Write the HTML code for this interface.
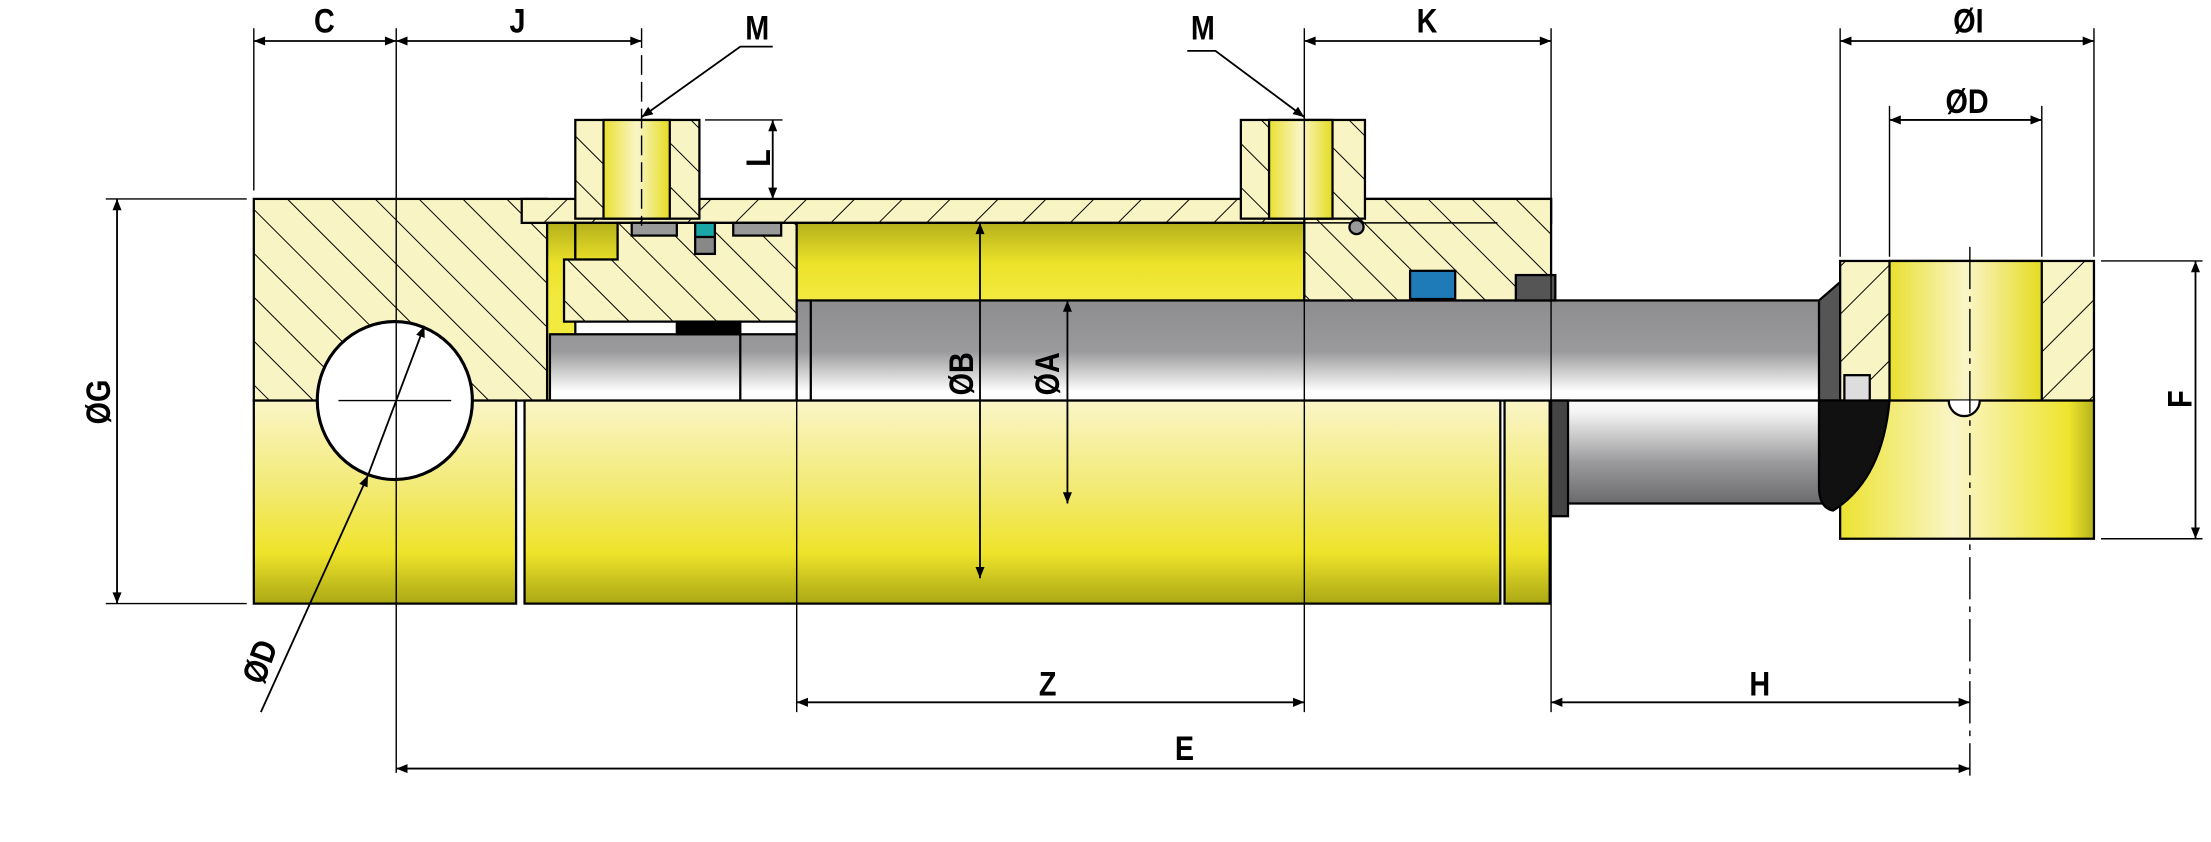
<!DOCTYPE html>
<html><head><meta charset="utf-8"><style>
html,body{margin:0;padding:0;background:#fff;}
svg{display:block;}
text{font-family:"Liberation Sans",sans-serif;font-weight:bold;fill:#000;}
</style></head><body>
<svg width="2211" height="842" viewBox="0 0 1568 597" xmlns="http://www.w3.org/2000/svg">
<defs>
<pattern id="h" patternUnits="userSpaceOnUse" width="22" height="22" patternTransform="rotate(-45)">
<rect width="22" height="22" fill="#f9f4c4"/><line x1="0" y1="0" x2="0" y2="22" stroke="#000" stroke-width="1.4"/></pattern>
<pattern id="h2" patternUnits="userSpaceOnUse" width="24" height="24" patternTransform="rotate(45)">
<rect width="24" height="24" fill="#f9f4c4"/><line x1="0" y1="0" x2="0" y2="24" stroke="#000" stroke-width="1.4"/></pattern>
<linearGradient id="yb" x1="0" y1="284" x2="0" y2="428" gradientUnits="userSpaceOnUse">
<stop offset="0" stop-color="#faf5c8"/><stop offset="0.45" stop-color="#f2ea70"/><stop offset="0.75" stop-color="#efe32a"/><stop offset="1" stop-color="#aaa815"/></linearGradient>
<linearGradient id="yt" x1="0" y1="158" x2="0" y2="215" gradientUnits="userSpaceOnUse">
<stop offset="0" stop-color="#b4b01a"/><stop offset="0.5" stop-color="#ece22a"/><stop offset="1" stop-color="#f3ea40"/></linearGradient>
<linearGradient id="g" x1="0" y1="213" x2="0" y2="357" gradientUnits="userSpaceOnUse">
<stop offset="0" stop-color="#8d8d90"/><stop offset="0.25" stop-color="#9a9a9c"/><stop offset="0.45" stop-color="#ffffff"/><stop offset="0.55" stop-color="#f4f4f4"/><stop offset="0.8" stop-color="#9a9a9c"/><stop offset="1" stop-color="#6a6a6c"/></linearGradient>
<linearGradient id="yh" x1="0" y1="0" x2="1" y2="0">
<stop offset="0" stop-color="#e9e030"/><stop offset="0.5" stop-color="#faf5c8"/><stop offset="1" stop-color="#e5dc20"/></linearGradient>
<linearGradient id="ye" x1="0" y1="0" x2="1" y2="0">
<stop offset="0" stop-color="#ece330"/><stop offset="0.45" stop-color="#faf5c8"/><stop offset="0.9" stop-color="#eee52e"/><stop offset="1" stop-color="#b5b21a"/></linearGradient>
<marker id="a" viewBox="0 0 10 10" refX="10" refY="5" markerWidth="14" markerHeight="8" orient="auto-start-reverse" markerUnits="userSpaceOnUse"><path d="M0,1 L10,5 L0,9 z" fill="#000"/></marker>
</defs>

<g stroke="#000" stroke-width="1.6">
<rect x="180" y="141" width="208" height="143" fill="url(#h)"/>
<rect x="180" y="284" width="186" height="144" fill="url(#yb)"/>
<rect x="370" y="141" width="730" height="17" fill="url(#h2)"/>
<rect x="388" y="158" width="20" height="126" fill="url(#yt)"/>
<rect x="408" y="158" width="30" height="26" fill="url(#yt)"/>
<path d="M400,184 L438,184 L438,158 L565,158 L565,228 L400,228 Z" fill="url(#h)"/>
<rect x="565" y="158" width="360" height="56" fill="url(#yt)"/>
<rect x="390" y="237" width="175" height="47" fill="url(#g)"/>
<rect x="480" y="228" width="45" height="9" fill="#000"/>
<line x1="525" y1="237" x2="525" y2="284"/>
<rect x="565" y="213" width="735" height="71" fill="url(#g)"/>
<line x1="575" y1="213" x2="575" y2="284"/>
<rect x="925" y="141" width="175" height="72" fill="url(#h)"/>
<line x1="925" y1="158" x2="1062" y2="158" stroke-width="1"/>
<rect x="1000" y="192" width="32" height="20" fill="#1f7ab8"/>
<rect x="1075" y="195" width="28" height="18" fill="#555"/>
<rect x="448" y="158" width="32" height="9" fill="#999"/>
<rect x="520" y="158" width="34" height="9" fill="#999"/>
<rect x="493" y="158" width="14" height="11" fill="#1aa6a6"/>
<rect x="493" y="168" width="14" height="12" fill="#888"/>
<circle cx="962" cy="161" r="5" fill="#999"/>
<rect x="372" y="284" width="692" height="144" fill="url(#yb)"/>
<rect x="1067" y="284" width="32" height="144" fill="url(#yb)"/>
<rect x="1100" y="284" width="200" height="73" fill="url(#g)"/>
<rect x="1100" y="284" width="12" height="82" fill="#444"/>
<rect x="408" y="85" width="88" height="70" fill="url(#h)"/>
<rect x="428" y="85" width="47" height="70" fill="url(#yh)"/>
<rect x="880" y="85" width="88" height="70" fill="url(#h)"/>
<rect x="900" y="85" width="45" height="70" fill="url(#yh)"/>
<path d="M1290,213 L1305,200 L1305,284 L1290,284 Z" fill="#555"/>
<rect x="1305" y="185" width="180" height="99" fill="url(#h2)"/>
<rect x="1340" y="185" width="108" height="99" fill="url(#yh)"/>
<rect x="1305" y="284" width="180" height="98" fill="url(#ye)"/>
<path d="M1290,284 L1340,284 Q1335,340 1300,362 Q1290,360 1290,345 Z" fill="#111"/>
<rect x="1308" y="266" width="18" height="18" fill="#ddd"/>
<path d="M1382,284 A11,11 0 0 0 1404,284" fill="#fff"/>
<ellipse cx="280" cy="284" rx="55" ry="56" fill="#fff" stroke-width="2.2"/>
</g>

<g stroke="#000" stroke-width="1" fill="none">
<line x1="240" y1="284" x2="320" y2="284"/>
<line x1="281" y1="20" x2="281" y2="548"/>
<line x1="180" y1="20" x2="180" y2="135"/>
<line x1="455" y1="20" x2="455" y2="160" stroke-dasharray="14,5"/>
<line x1="925" y1="20" x2="925" y2="505"/>
<line x1="1100" y1="20" x2="1100" y2="505"/>
<line x1="565" y1="213" x2="565" y2="505"/>
<line x1="1305" y1="20" x2="1305" y2="182"/>
<line x1="1485" y1="20" x2="1485" y2="182"/>
<line x1="1340" y1="75" x2="1340" y2="182"/>
<line x1="1448" y1="75" x2="1448" y2="182"/>
<line x1="1397" y1="175" x2="1397" y2="550" stroke-dasharray="30,5,4,5"/>
<line x1="75" y1="141" x2="175" y2="141"/>
<line x1="75" y1="428" x2="175" y2="428"/>
<line x1="1490" y1="185" x2="1562" y2="185"/>
<line x1="1490" y1="382" x2="1562" y2="382"/>
<line x1="500" y1="85" x2="555" y2="85"/>
<g stroke-width="1.3">
<line x1="180" y1="29" x2="281" y2="29" marker-start="url(#a)" marker-end="url(#a)"/>
<line x1="281" y1="29" x2="455" y2="29" marker-start="url(#a)" marker-end="url(#a)"/>
<line x1="925" y1="29" x2="1100" y2="29" marker-start="url(#a)" marker-end="url(#a)"/>
<line x1="1305" y1="29" x2="1485" y2="29" marker-start="url(#a)" marker-end="url(#a)"/>
<line x1="1340" y1="85" x2="1448" y2="85" marker-start="url(#a)" marker-end="url(#a)"/>
<line x1="1557" y1="185" x2="1557" y2="382" marker-start="url(#a)" marker-end="url(#a)"/>
<line x1="83" y1="141" x2="83" y2="428" marker-start="url(#a)" marker-end="url(#a)"/>
<line x1="548" y1="85" x2="548" y2="141" marker-start="url(#a)" marker-end="url(#a)"/>
<line x1="695" y1="158" x2="695" y2="410" marker-start="url(#a)" marker-end="url(#a)"/>
<line x1="757" y1="213" x2="757" y2="357" marker-start="url(#a)" marker-end="url(#a)"/>
<line x1="565" y1="498" x2="925" y2="498" marker-start="url(#a)" marker-end="url(#a)"/>
<line x1="1100" y1="498" x2="1397" y2="498" marker-start="url(#a)" marker-end="url(#a)"/>
<line x1="281" y1="545" x2="1397" y2="545" marker-start="url(#a)" marker-end="url(#a)"/>
<line x1="185" y1="505" x2="261" y2="337" marker-end="url(#a)"/>
<line x1="261" y1="337" x2="301" y2="231" marker-end="url(#a)"/>
<polyline points="548,33 525,33 455,83" marker-end="url(#a)"/>
<polyline points="842,36 862,36 925,83" marker-end="url(#a)"/>
</g>
</g>

<g font-size="24">
<text transform="translate(230,23) scale(0.85,1)" text-anchor="middle">C</text>
<text transform="translate(367,23) scale(0.85,1)" text-anchor="middle">J</text>
<text transform="translate(537,28) scale(0.85,1)" text-anchor="middle">M</text>
<text transform="translate(853,28) scale(0.85,1)" text-anchor="middle">M</text>
<text transform="translate(1012,23) scale(0.85,1)" text-anchor="middle">K</text>
<text transform="translate(1396,23) scale(0.85,1)" text-anchor="middle">ØI</text>
<text transform="translate(1395,80) scale(0.85,1)" text-anchor="middle">ØD</text>
<text transform="translate(743,493) scale(0.85,1)" text-anchor="middle">Z</text>
<text transform="translate(1248,493) scale(0.85,1)" text-anchor="middle">H</text>
<text transform="translate(840,539) scale(0.85,1)" text-anchor="middle">E</text>
<text transform="translate(78,285) rotate(-90) scale(0.85,1)" text-anchor="middle">ØG</text>
<text transform="translate(546,112) rotate(-90) scale(0.85,1)" text-anchor="middle">L</text>
<text transform="translate(690,265) rotate(-90) scale(0.85,1)" text-anchor="middle">ØB</text>
<text transform="translate(751,265) rotate(-90) scale(0.85,1)" text-anchor="middle">ØA</text>
<text transform="translate(1554,283) rotate(-90) scale(0.85,1)" text-anchor="middle">F</text>
<text transform="translate(192,472) rotate(-70) scale(0.85,1)" text-anchor="middle">ØD</text>
</g>
</svg>
</body></html>
